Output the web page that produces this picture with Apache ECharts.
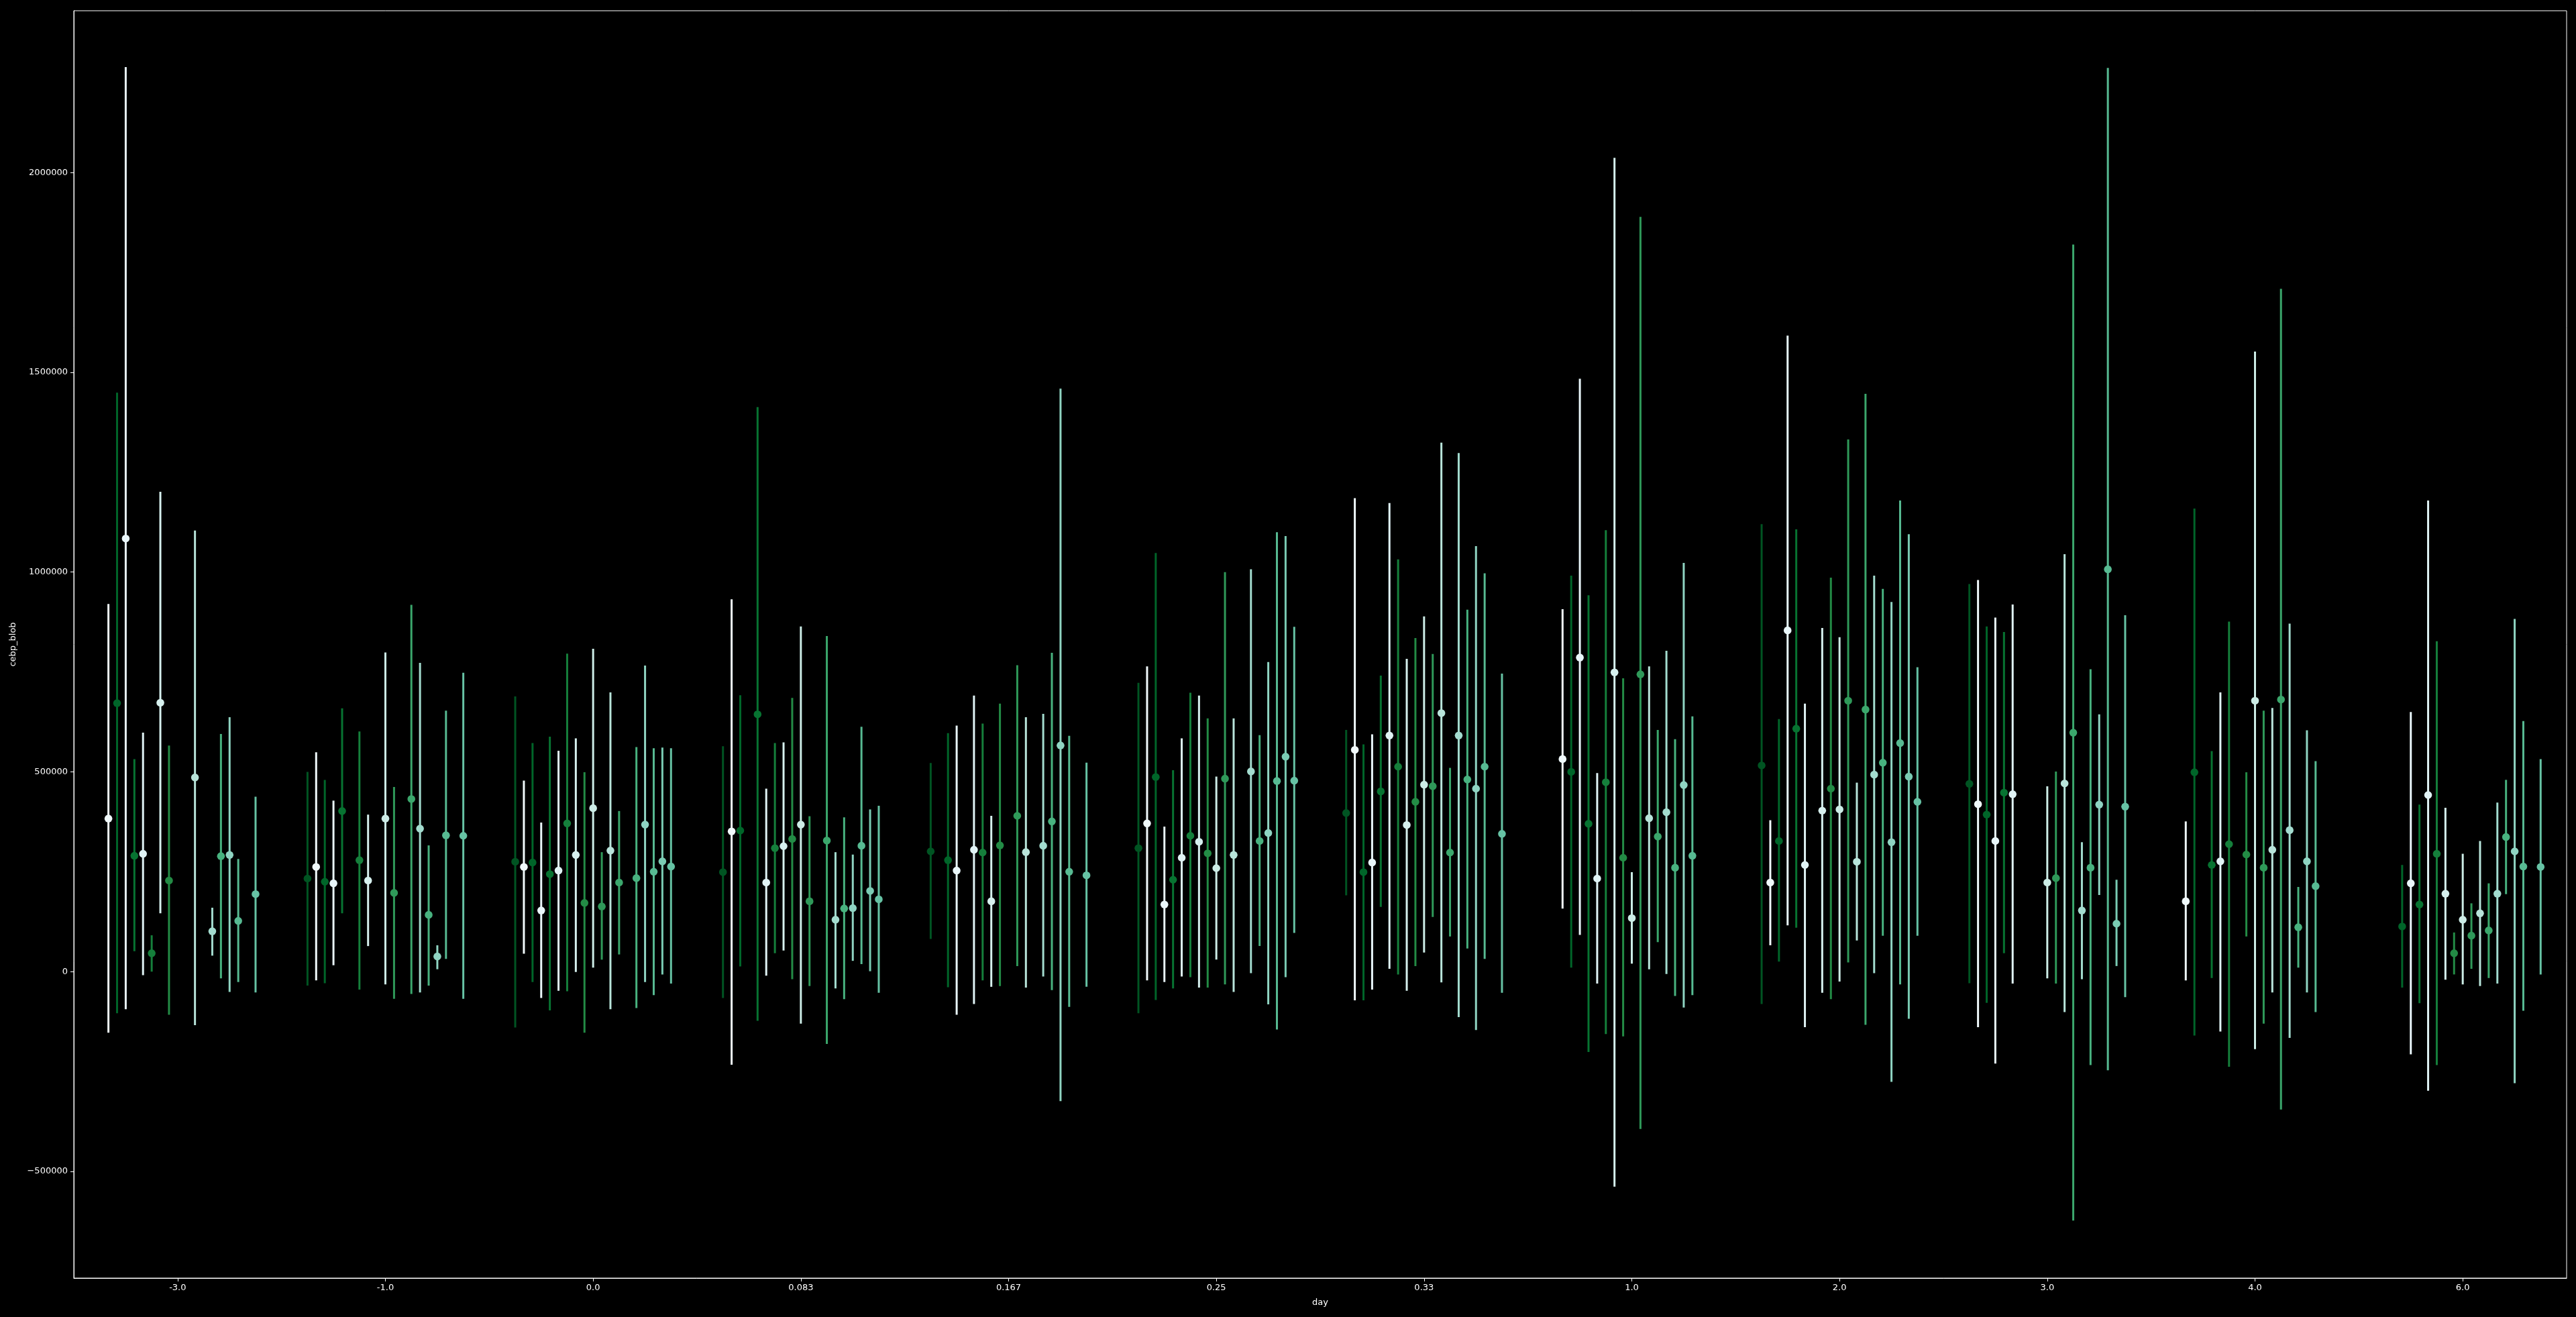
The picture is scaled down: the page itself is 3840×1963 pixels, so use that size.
<!DOCTYPE html>
<html>
<head>
<meta charset="utf-8">
<script src="https://cdn.jsdelivr.net/npm/echarts@6/dist/echarts.min.js"></script>
<style>
html,body{margin:0;padding:0;background:#000;}
#chart{width:3840px;height:1963px;}
</style>
</head>
<body>
<div id="chart"></div>
<script>
// ---------------- data ----------------
const categories = ['-3.0','-1.0','0.0','0.083','0.167','0.25','0.33','1.0','2.0','3.0','4.0','6.0'];
const yTickValues = [-500000, 0, 500000, 1000000, 1500000, 2000000];
const hueCount = 19;

// point estimates, one row per day category, one column per hue level (null = no data)
const means = [
  [null, 383000, 672000, 1084000, 290000, 295000, 46000, 673000, 228000, null, null, 486000, null, 101000, 289000, 292000, 127000, null, 194000],
  [233000, 262000, 225000, 221000, 402000, null, 279000, 228000, null, 383000, 197000, null, 432000, 358000, 142000, 38000, 341000, null, 340000],
  [275000, 262000, 273000, 153000, 244000, 253000, 371000, 292000, 172000, 409000, 163000, 303000, 223000, null, 234000, 368000, 250000, 276000, 263000],
  [249000, 351000, 353000, null, 644000, 223000, 309000, 314000, 332000, 368000, 176000, null, 328000, 130000, 158000, 159000, 315000, 202000, 181000],
  [301000, null, 279000, 253000, null, 305000, 298000, 176000, 316000, null, 390000, 299000, null, 315000, 376000, 566000, 250000, null, 241000],
  [309000, 371000, 487000, 168000, 230000, 285000, 340000, 325000, 296000, 259000, 483000, 292000, null, 501000, 327000, 347000, 477000, 538000, 478000],
  [397000, 555000, 249000, 273000, 451000, 591000, 513000, 367000, 425000, 468000, 464000, 647000, 298000, 591000, 481000, 458000, 513000, null, 345000],
  [null, 532000, 500000, 786000, 370000, 233000, 474000, 749000, 285000, 134000, 744000, 384000, 338000, 399000, 260000, 467000, 290000, null, null],
  [516000, 223000, 327000, 854000, 608000, 267000, null, 403000, 458000, 406000, 678000, 275000, 656000, 493000, 523000, 324000, 572000, 488000, 425000],
  [470000, 419000, 393000, 327000, 448000, 444000, null, null, null, 223000, 234000, 471000, 598000, 153000, 260000, 418000, 1007000, 120000, 413000],
  [null, 176000, 499000, null, 267000, 276000, 319000, null, 293000, 678000, 260000, 305000, 681000, 354000, 111000, 276000, 214000, null, null],
  [null, null, 113000, 221000, 168000, 442000, 295000, 195000, 46000, 130000, 90000, 146000, 103000, 195000, 337000, 301000, 263000, null, 262000]
];

// lower ends of the error bars
const lows = [
  [null, -153000, -104000, -94000, 51000, -9000, 0, 146000, -108000, null, null, -134000, null, 40000, -17000, -51000, -26000, null, -52000],
  [-35000, -22000, -29000, 16000, 146000, null, -45000, 64000, null, -32000, -68000, null, -56000, -52000, -35000, 6000, 32000, null, -68000],
  [-140000, 45000, -26000, -66000, -97000, -48000, -49000, -1000, -153000, 10000, 30000, -94000, 43000, null, -91000, -26000, -59000, -7000, -30000],
  [-66000, -233000, 13000, null, -123000, -10000, 46000, 53000, -19000, -130000, -36000, null, -181000, -42000, -69000, 27000, 19000, 1000, -53000],
  [82000, null, -39000, -108000, null, -81000, -22000, -38000, -36000, null, 14000, -40000, null, -12000, -46000, -324000, -88000, null, -38000],
  [-104000, -22000, -71000, -26000, -42000, -12000, -14000, -40000, -40000, 30000, -32000, -51000, null, -4000, 64000, -82000, -145000, -14000, 97000],
  [191000, -72000, -72000, -45000, 162000, 7000, -7000, -48000, 14000, 48000, 137000, -27000, 88000, -114000, 58000, -146000, 32000, null, -53000],
  [null, 158000, 10000, 92000, -201000, -30000, -156000, -538000, -162000, 20000, -394000, 6000, 74000, -6000, -61000, -90000, -59000, null, null],
  [-81000, 66000, 25000, 116000, 110000, -139000, null, -53000, -69000, -25000, 23000, 78000, -133000, -4000, 90000, -276000, -32000, -118000, 90000],
  [-29000, -139000, -78000, -230000, 46000, -30000, null, null, null, -17000, -30000, -101000, -623000, -19000, -234000, 192000, -247000, 14000, -64000],
  [null, -22000, -160000, null, -16000, -150000, -238000, null, 88000, -194000, -130000, -52000, -345000, -166000, 10000, -52000, -101000, null, null],
  [null, null, -40000, -207000, -79000, -298000, -234000, -20000, -7000, -32000, 7000, -36000, -16000, -30000, 194000, -279000, -98000, null, -7000]
];

// upper ends of the error bars
const highs = [
  [null, 920000, 1449000, 2264000, 532000, 598000, 91000, 1201000, 566000, null, null, 1104000, null, 160000, 595000, 637000, 282000, null, 438000],
  [500000, 549000, 480000, 428000, 659000, null, 601000, 393000, null, 799000, 462000, null, 918000, 773000, 316000, 66000, 653000, null, 748000],
  [689000, 478000, 572000, 373000, 588000, 553000, 796000, 584000, 499000, 808000, 299000, 699000, 402000, null, 562000, 766000, 559000, 561000, 559000],
  [564000, 932000, 692000, null, 1413000, 458000, 572000, 574000, 685000, 864000, 389000, null, 840000, 299000, 386000, 293000, 613000, 406000, 415000],
  [522000, null, 597000, 616000, null, 691000, 621000, 390000, 671000, null, 767000, 637000, null, 645000, 798000, 1459000, 590000, null, 523000],
  [723000, 764000, 1048000, 363000, 504000, 584000, 698000, 691000, 634000, 488000, 1000000, 634000, null, 1007000, 592000, 775000, 1100000, 1090000, 863000],
  [605000, 1185000, 569000, 594000, 741000, 1173000, 1032000, 783000, 835000, 889000, 795000, 1324000, 510000, 1298000, 906000, 1065000, 997000, null, 746000],
  [null, 907000, 991000, 1484000, 942000, 497000, 1105000, 2037000, 734000, 249000, 1889000, 764000, 605000, 803000, 582000, 1023000, 639000, null, null],
  [1120000, 379000, 632000, 1592000, 1107000, 671000, null, 860000, 986000, 837000, 1332000, 473000, 1446000, 991000, 958000, 925000, 1179000, 1095000, 762000],
  [970000, 980000, 864000, 886000, 850000, 919000, null, null, null, 464000, 501000, 1045000, 1820000, 324000, 757000, 644000, 2262000, 230000, 892000],
  [null, 376000, 1159000, null, 552000, 699000, 876000, null, 499000, 1552000, 653000, 660000, 1709000, 871000, 212000, 604000, 527000, null, null],
  [null, null, 267000, 650000, 418000, 1179000, 827000, 410000, 98000, 295000, 171000, 327000, 221000, 423000, 480000, 883000, 627000, null, 532000]
];

// ---------------- styling helpers ----------------
const Y_MIN = -767000, Y_MAX = 2405000;
const DODGE = 0.75;
const BUGN = ['#f7fcfd','#e5f5f9','#ccece6','#99d8c9','#66c2a4','#41ae76','#238b45','#006d2c','#00441b'];
function hexRgb(h){ return [parseInt(h.substr(1,2),16), parseInt(h.substr(3,2),16), parseInt(h.substr(5,2),16)]; }
function bugn(t){
  const x = t * 8, i = Math.min(7, Math.floor(x)), f = x - i;
  const a = hexRgb(BUGN[i]), b = hexRgb(BUGN[i+1]);
  const c = a.map((v, j) => Math.round(v + (b[j] - v) * f));
  return 'rgb(' + c.join(',') + ')';
}
function slotColor(s){
  if (s % 2 === 0) { const k = s / 2; return bugn((19 - k) / 20); }
  const k = (s - 1) / 2; return bugn((1 + k) / 20);
}
function slotOffset(s){ return -DODGE / 2 + s * DODGE / (hueCount - 1); }

const WHITE = '#ffffff';
const FONT = 'DejaVu Sans';

const series = [];
for (let s = 0; s < hueCount; s++) {
  const color = slotColor(s);
  const data = [];
  categories.forEach((c, k) => {
    if (means[k][s] !== null) data.push([k + slotOffset(s), means[k][s], lows[k][s], highs[k][s]]);
  });
  series.push({
    type: 'custom',
    xAxisIndex: 1,
    yAxisIndex: 0,
    data: data,
    encode: { x: 0, y: [1, 2, 3] },
    renderItem: function (params, api) {
      const x = api.value(0);
      const pM = api.coord([x, api.value(1)]);
      const pLo = api.coord([x, api.value(2)]);
      const pHi = api.coord([x, api.value(3)]);
      return {
        type: 'group',
        children: [
          { type: 'line', shape: { x1: pLo[0], y1: pLo[1], x2: pHi[0], y2: pHi[1] },
            style: { stroke: color, lineWidth: 3 } },
          { type: 'circle', shape: { cx: pM[0], cy: pM[1], r: 5.8 },
            style: { fill: color } }
        ]
      };
    }
  });
}

const chart = echarts.init(document.getElementById('chart'), null, { renderer: 'canvas' });
chart.setOption({
  animation: false,
  backgroundColor: '#000000',
  textStyle: { fontFamily: FONT, color: WHITE },
  grid: { left: 110, right: 14, top: 16, bottom: 58, show: true, borderColor: WHITE, borderWidth: 1, backgroundColor: 'transparent' },
  xAxis: [
    {
      type: 'category',
      data: categories,
      boundaryGap: true,
      position: 'bottom',
      axisLine: { show: true, onZero: false, lineStyle: { color: WHITE, width: 1 } },
      axisTick: { show: true, alignWithLabel: true, length: 5, lineStyle: { color: WHITE, width: 1 } },
      axisLabel: { color: WHITE, fontSize: 13, margin: 8, fontFamily: FONT },
      splitLine: { show: false },
      name: 'day',
      nameLocation: 'middle',
      nameGap: 30,
      nameTextStyle: { color: WHITE, fontSize: 13, fontFamily: FONT }
    },
    { type: 'value', min: -0.5, max: categories.length - 0.5, show: false,
      axisLine: { show: false, onZero: false }, splitLine: { show: false } }
  ],
  yAxis: [{
    type: 'value',
    min: Y_MIN,
    max: Y_MAX,
    position: 'left',
    axisLine: { show: true, onZero: false, lineStyle: { color: WHITE, width: 1 } },
    axisTick: { show: true, length: 5, customValues: yTickValues, lineStyle: { color: WHITE, width: 1 } },
    axisLabel: {
      color: WHITE, fontSize: 13, margin: 9, fontFamily: FONT,
      customValues: yTickValues,
      formatter: function (v) { return v < 0 ? '\u2212' + Math.abs(v) : String(v); }
    },
    splitLine: { show: false },
    name: 'cebp_blob',
    nameLocation: 'middle',
    nameGap: 84,
    nameRotate: 90,
    nameTextStyle: { color: WHITE, fontSize: 13, fontFamily: FONT }
  }],
  series: series
});
</script>
</body>
</html>
